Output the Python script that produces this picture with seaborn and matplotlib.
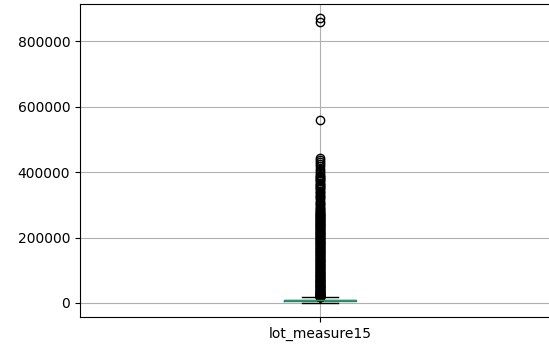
import numpy as np
import pandas as pd
import matplotlib
matplotlib.use("Agg")
import matplotlib.pyplot as plt
import seaborn as sns

column_name = "lot_measure15"

# Body of the distribution (value levels and how many records sit at each)
body_values = [651, 5100, 7620, 10083, 17550]
body_counts = [1, 400, 400, 400, 1]

# Outliers (above upper whisker)
outlier_values = [
    17600, 18200, 19000, 19800, 20500, 21400, 22300, 23100, 24000, 25000,
    26100, 27200, 28300, 29500, 30700, 32000, 33400, 34800, 36000, 37500,
    39000, 40200, 41800, 43000, 44600, 46000, 47500, 49000, 50500, 52000,
    53600, 55000, 56500, 58100, 59700, 61300, 63000, 64500, 66000, 67800,
    69500, 71000, 72800, 74500, 76200, 78000, 79800, 81500, 83300, 85000,
    87000, 88700, 90500, 92400, 94300, 96200, 98000,
    100000, 101800, 103900, 105700, 107600, 109800, 111700, 113500, 115600,
    117400, 119500, 121300, 123400, 125200, 127300, 129100, 131200, 133000,
    135100, 137000, 139100, 140900, 143000, 144800, 146900, 148800, 150900,
    152700, 154800, 156600, 158700, 160500, 162600, 164500, 166600, 168400,
    170500, 172300, 174400, 176200, 178300, 180200, 182300, 184100, 186200,
    188000, 190100, 192000, 194100, 195900, 198000, 199800, 201900, 203800,
    205900, 207700, 209800, 211600, 213700, 215600, 217700, 219500, 221600,
    223400, 225500, 227400, 229500, 231300, 233400, 235200, 237300, 239200,
    241300, 243100, 245200, 247000, 249100, 251000, 253100, 254900, 257000,
    258800, 260900, 262800, 264900, 266700, 268800, 270600, 272700, 274600,
    276700, 278500, 280600,
    283500, 286800, 290500, 294000, 300000, 303500, 307000, 310200, 313800,
    320000, 323500, 327000, 330500, 337000, 340500, 344000, 347500, 351000,
    354500, 358000, 361500, 365000, 368500, 372000, 375500, 379000, 382500,
    386000, 389500, 393000, 396500,
    404000, 411000, 418000, 425500, 431000, 437000, 443000,
    560617, 858132, 871200,
]

values = np.concatenate([np.repeat(body_values, body_counts), outlier_values])
df = pd.DataFrame({column_name: values})

fig = plt.figure(figsize=(5.49, 3.48), dpi=100)
ax = fig.add_axes([80 / 549, 1 - 317 / 348, 480 / 549, 313 / 348])

sns.boxplot(
    data=df, ax=ax, width=0.15, fill=False, color="#1f77b4", saturation=1,
    linewidth=1, fliersize=6, whis=1.5,
    boxprops={"color": "#1f77b4"},
    medianprops={"color": "#2ca02c"},
    whiskerprops={"color": "black"},
    capprops={"color": "black"},
    flierprops={"marker": "o", "markerfacecolor": "none",
                "markeredgecolor": "black", "markeredgewidth": 1},
    capwidths=0.075,
)

ax.set_xlim(-0.5, 0.5)
ax.grid(True, color="#b0b0b0", linewidth=0.8)
ax.set_axisbelow("line")
ax.set_xlabel("")
ax.set_ylabel("")
ax.tick_params(labelsize=10)
for s in ax.spines.values():
    s.set_color("black")
    s.set_linewidth(0.8)
ax.spines["right"].set_visible(False)

fig.savefig("out.png", dpi=100)
